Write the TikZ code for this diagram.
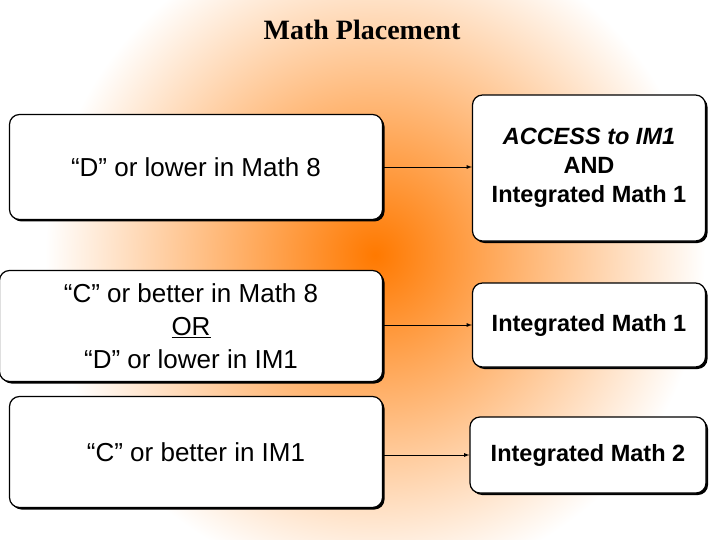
\documentclass[tikz,border=0pt]{standalone}
\usepackage{fontspec}
\setmainfont{Liberation Sans}
\newfontfamily\titlefont{Liberation Serif}
\usetikzlibrary{positioning, shadows}

\begin{document}
\begin{tikzpicture}[x=1pt, y=-1pt,
    gradebox/.style={draw, very thick, rounded corners=10pt, fill=white, align=center,
      font=\fontsize{26}{33}\selectfont, drop shadow={shadow xshift=2pt, shadow yshift=-2pt, fill=black, opacity=1}},
    coursebox/.style={gradebox, font=\bfseries\fontsize{23.5}{29}\selectfont},
    linkarrow/.style={-latex, thick}]

    % page and glow
    \useasboundingbox (0,0) rectangle (720,540);
    \fill[white] (0,0) rectangle (720,540);
    \begin{scope}
      \clip (0,0) rectangle (720,540);
      \shade[inner color=orange!95!red, outer color=white] (375,255) circle (330);
    \end{scope}

    % title
    \node[font=\titlefont\bfseries\fontsize{28}{32}\selectfont] (title) at (362,30) {Math Placement};

    % grades on the left
    \node[gradebox, minimum width=373pt, minimum height=105pt] (g1) at (196,167) {“D” or lower in Math 8};
    \node[gradebox, minimum width=383pt, minimum height=111pt] (g2) at (191,326) {“C” or better in Math 8\\\underline{OR}\\“D” or lower in IM1};
    \node[gradebox, minimum width=373pt, minimum height=111pt] (g3) at (196,452) {“C” or better in IM1};

    % courses on the right
    \node[coursebox, minimum width=233pt, minimum height=146pt] (c1) at (589,168) {\textit{ACCESS to IM1}\\AND\\Integrated Math 1};
    \node[coursebox, minimum width=233pt, minimum height=84pt] (c2) at (589,325) {Integrated Math 1};
    \node[coursebox, minimum width=236pt, minimum height=76pt] (c3) at (588,455) {Integrated Math 2};

    % links
    \draw[linkarrow] (g1.east) -- (g1.east -| c1.west);
    \draw[linkarrow] (g2.east |- c2.west) -- (c2.west);
    \draw[linkarrow] (g3.east |- c3.west) -- (c3.west);
\end{tikzpicture}
\end{document}
